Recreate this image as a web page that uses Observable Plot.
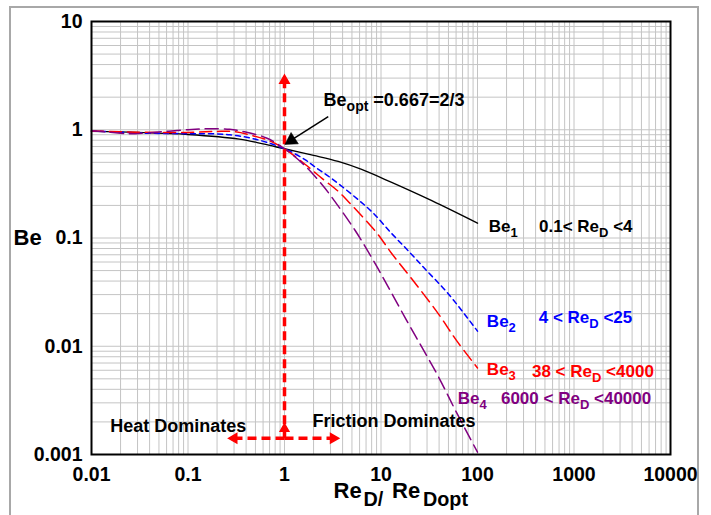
<!DOCTYPE html>
<html>
<head>
<meta charset="utf-8">
<script src="https://cdn.jsdelivr.net/npm/d3@7"></script>
<script src="https://cdn.jsdelivr.net/npm/@observablehq/plot@0.6"></script>
<style>
  html, body { margin: 0; padding: 0; background: #fff; }
  #wrap { position: relative; width: 711px; height: 515px; overflow: hidden; }
  #border { position: absolute; left: 9px; top: 6px; width: 690px; height: 530px; border: 2px solid #a8a8a8; box-sizing: border-box; }
  #chart { position: absolute; left: 0; top: 0; }
</style>
</head>
<body>
<div id="wrap"><div id="border"></div><div id="chart"></div></div>
<script>
// Tick labels
const xTickLabels = [0.01, 0.1, 1, 10, 100, 1000, 10000];
const yTickLabels = [0.001, 0.01, 0.1, 1, 10];

// Be1 (0.1 < ReD < 4)
const be1X = [0.01, 0.03, 0.1, 0.34, 0.6, 1, 2, 3.6, 6.3, 12.9, 33.6, 100];
const be1Y = [0.965, 0.945, 0.905, 0.82, 0.74, 0.667, 0.58, 0.51, 0.43, 0.326, 0.221, 0.137];

// Be2 (4 < ReD < 25)
const be2X = [0.01, 0.02, 0.035, 0.1, 0.27, 0.55, 1, 1.63, 2.06, 3.07, 5.83, 8.3, 12.9, 19.2, 28.5, 50, 100];
const be2Y = [0.975, 0.95, 0.93, 0.92, 0.9, 0.8, 0.667, 0.53, 0.455, 0.355, 0.225, 0.17, 0.11, 0.076, 0.052, 0.0304, 0.0138];

// Be3 (38 < ReD < 4000)
const be3X = [0.01, 0.03, 0.1, 0.2, 0.3, 0.43, 0.7, 1, 1.63, 2.5, 3.6, 5, 9, 12.9, 20.8, 39.5, 61, 100];
const be3Y = [0.975, 0.95, 0.945, 0.965, 0.96, 0.9, 0.79, 0.667, 0.48, 0.35, 0.27, 0.2, 0.112, 0.072, 0.042, 0.0198, 0.0112, 0.0063];

// Be4 (6000 < ReD < 40000)
const be4X = [0.01, 0.02, 0.025, 0.04, 0.1, 0.16, 0.27, 0.37, 0.65, 1, 1.63, 2.42, 3.07, 5.38, 8, 11, 17.7, 26.5, 39.5, 58.5, 100];
const be4Y = [0.98, 0.93, 0.92, 0.94, 1.0, 1.02, 1.01, 0.965, 0.84, 0.667, 0.465, 0.315, 0.24, 0.118, 0.066, 0.04, 0.0185, 0.0098, 0.0052, 0.0026, 0.00105];

// Red dashed region arrows (start at Re/Reopt = 1)
const regionX1 = [1, 1, 1];
const regionY1 = [0.00141, 0.00141, 0.00141];
const regionX2 = [0.3, 3.2, 1];
const regionY2 = [0.00141, 0.00141, 2.85];
const regionHeadAngle = [-90, 90, 0];

// Labels
const seriesLabels = [
  {text: "Be_{1}", x: 131, y: 0.128, color: "black"},
  {text: "0.1< Re_{D} <4", x: 434, y: 0.128, color: "black"},
  {text: "Be_{2}", x: 125, y: 0.017, color: "#0000ff"},
  {text: "4 < Re_{D} <25", x: 431, y: 0.0186, color: "#0000ff"},
  {text: "Be_{3}", x: 125, y: 0.00607, color: "#ff0000"},
  {text: "38 < Re_{D} <4000", x: 367, y: 0.00578, color: "#ff0000"},
  {text: "Be_{4}", x: 62.5, y: 0.00327, color: "#800080"},
  {text: "6000 < Re_{D} <40000", x: 175, y: 0.00326, color: "#800080"}
];
const noteLabels = [
  {text: "Heat Dominates", x: 0.0156, y: 0.00184},
  {text: "Friction Dominates", x: 1.95, y: 0.00205},
  {text: "Be_{opt} =0.667=2/3", x: 2.54, y: 1.87}
];
// x-axis title pieces: main text and subscripts
const xTitleParts = [
  {text: "Re", sub: false, dx: -47.5},
  {text: "D/", sub: true, dx: -17.5},
  {text: "Re", sub: false, dx: 11},
  {text: "Dopt", sub: true, dx: 42}
];

const toRows = (xs, ys) => xs.map((x, i) => ({x, y: ys[i]}));
const decades = [0.001, 0.01, 0.1, 1, 10, 100, 1000];
const minor = [];
decades.forEach(d => [1,2,3,4,5,6,7,8,9].forEach(m => minor.push(+(d*m).toPrecision(3))));
const xGrid = minor.filter(v => v >= 0.01 && v <= 10000).concat([10000]);
const yGrid = minor.filter(v => v >= 0.001 && v <= 10).concat([10]);

const regionRows = regionX1.map((x, i) => ({x1: x, y1: regionY1[i], x2: regionX2[i], y2: regionY2[i], a: regionHeadAngle[i]}));

const titleMarks = xTitleParts.map(p => Plot.text([p.text], {
  frameAnchor: "bottom", text: d => d, dx: p.dx, dy: p.sub ? 51 : 43,
  textAnchor: "start", fontSize: p.sub ? 19.8 : 22, fontWeight: "bold"
}));

const svg = Plot.plot({
  width: 711, height: 515,
  marginLeft: 91, marginRight: 41, marginTop: 21, marginBottom: 61,
  style: {fontFamily: "'Liberation Sans', Arial, sans-serif", fontWeight: "bold", fontSize: "18px", background: "transparent", color: "black"},
  x: {type: "log", domain: [0.01, 10000]},
  y: {type: "log", domain: [0.001, 10]},
  marks: [
    Plot.gridX(xGrid, {stroke: "#c4c4c4", strokeOpacity: 1, strokeWidth: 1}),
    Plot.gridY(yGrid, {stroke: "#c4c4c4", strokeOpacity: 1, strokeWidth: 1}),
    Plot.axisX(xTickLabels, {tickSize: 0, tickPadding: 13, tickFormat: d => String(d), label: null, fontSize: 19.5}),
    Plot.axisY(yTickLabels, {tickSize: 0, tickPadding: 9, tickFormat: d => String(d), label: null, fontSize: 19.5}),
    Plot.line(toRows(be1X, be1Y), {x: "x", y: "y", stroke: "black", strokeWidth: 1.4, curve: "catmull-rom"}),
    Plot.line(toRows(be2X, be2Y), {x: "x", y: "y", stroke: "#0000ff", strokeWidth: 1.5, strokeDasharray: "5,4", curve: "catmull-rom"}),
    Plot.line(toRows(be3X, be3Y), {x: "x", y: "y", stroke: "#ff0000", strokeWidth: 1.5, strokeDasharray: "12,6", curve: "catmull-rom"}),
    Plot.line(toRows(be4X, be4Y), {x: "x", y: "y", stroke: "#800080", strokeWidth: 1.5, strokeDasharray: "13,6", curve: "catmull-rom"}),
    Plot.link(regionRows, {x1: "x1", y1: "y1", x2: "x2", y2: "y2", stroke: "#ff0000", strokeWidth: 3.5, strokeDasharray: "9,5"}),
    Plot.dot(regionRows, {x: "x2", y: "y2", symbol: "triangle", r: 3.5, fill: "#ff0000", stroke: "#ff0000", rotate: "a"}),
    Plot.dot([{x: 1, y: 0.00173}], {x: "x", y: "y", symbol: "triangle", r: 3.2, fill: "#ff0000", stroke: "#ff0000"}),
    Plot.link([{x1: 2.84, y1: 1.32, x2: 1.12, y2: 0.78}], {x1: "x1", y1: "y1", x2: "x2", y2: "y2", stroke: "black", strokeWidth: 1.5}),
    Plot.dot([{x: 1.18, y: 0.8}], {x: "x", y: "y", symbol: "triangle", r: 5, fill: "black", stroke: "black", strokeWidth: 0.5, rotate: -122.7}),
    Plot.frame({stroke: "black", strokeWidth: 2}),
    Plot.text(seriesLabels, {x: "x", y: "y", text: "text", fill: "color", textAnchor: "start", fontSize: 17, fontWeight: "bold"}),
    Plot.text(noteLabels, {x: "x", y: "y", text: "text", fill: "black", textAnchor: "start", fontSize: 18, fontWeight: "bold"}),
    Plot.text(["Be"], {frameAnchor: "left", text: d => d, dx: -78, textAnchor: "start", fontSize: 22, fontWeight: "bold"}),
    ...titleMarks
  ]
});
document.getElementById("chart").appendChild(svg);

// subscripts
d3.select(svg).selectAll("text").each(function() {
  const t = this.textContent;
  if (!t.includes("_{")) return;
  const fs = parseFloat(getComputedStyle(this).fontSize) || 17;
  const shift = Math.round(fs * 0.3);
  const parts = t.split(/_\{([^}]*)\}/);
  const sel = d3.select(this);
  sel.text(null);
  parts.forEach((p, i) => {
    const ts = sel.append("tspan").text(p);
    if (i % 2 === 1) ts.attr("font-size", Math.round(fs * 0.76)).attr("dy", shift);
    else if (i > 0) ts.attr("dy", -shift);
  });
});
</script>
</body>
</html>
